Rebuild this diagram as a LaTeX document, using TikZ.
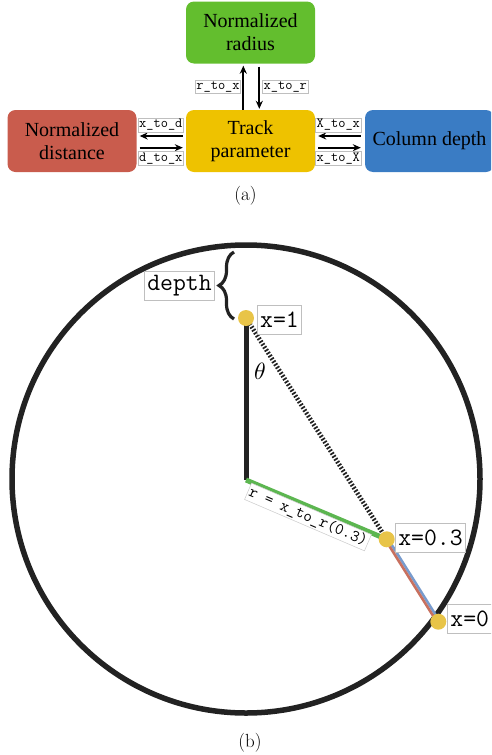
\documentclass[tikz,border=0pt]{standalone}
\usepackage{fontspec}
\newfontfamily\boxfont{Liberation Serif}
\usetikzlibrary{arrows.meta,decorations.pathreplacing}
\definecolor{cgreen}{RGB}{99,190,46}
\definecolor{cyellow}{RGB}{238,194,0}
\definecolor{cred}{RGB}{201,92,77}
\definecolor{cblue}{RGB}{58,124,196}
\definecolor{ldot}{RGB}{232,196,72}
\definecolor{lgreen}{RGB}{92,182,80}
\definecolor{lred}{RGB}{200,112,95}
\definecolor{lblue}{RGB}{120,155,205}
\definecolor{ink}{RGB}{34,34,34}
\begin{document}
\begin{tikzpicture}[x=1pt,y=-1pt,
 blk/.style={rounded corners=8pt, minimum width=129pt, minimum height=62pt, align=center,
   font=\boxfont\fontsize{20}{23}\selectfont, inner sep=0pt},
 tag/.style={draw=black!25, fill=white, line width=0.7pt, inner sep=1.2pt,
   font=\ttfamily\fontsize{14}{15}\selectfont},
 ftag/.style={draw=black!25, fill=white, line width=0.8pt, inner sep=3pt, minimum height=29pt,
   font=\ttfamily\fontsize{25}{27}\selectfont},
 arr/.style={-{Stealth[length=8pt,width=7pt]}, line width=1.8pt},
 dot/.style={circle, fill=ldot, minimum size=16pt, inner sep=0pt},
]
\useasboundingbox (0,0) rectangle (491,755);
\clip (0,0) rectangle (491,755);
% ---- (a)
\node[blk, fill=cgreen] (rad) at (250.5,32.5) {Normalized\\radius};
\node[blk, fill=cyellow] (trk) at (250.5,141) {Track\\parameter};
\node[blk, fill=cred] (dst) at (72,141) {Normalized\\distance};
\node[blk, fill=cblue] (col) at (429.5,141) {Column depth};

\draw[arr] ([xshift=-7.2pt]trk.north) -- ([xshift=-7.2pt,yshift=-2pt]rad.south);
\draw[arr] ([xshift=8.8pt,yshift=-3pt]rad.south) -- ([xshift=8.8pt,yshift=1pt]trk.north);
\draw[arr] ([xshift=-3pt,yshift=5pt]trk.west) -- ([xshift=3pt,yshift=5pt]dst.east);
\draw[arr] ([xshift=3pt,yshift=-6.7pt]dst.east) -- ([xshift=-3pt,yshift=-6.7pt]trk.west);
\draw[arr] ([xshift=-4pt,yshift=5pt]col.west) -- ([xshift=3pt,yshift=5pt]trk.east);
\draw[arr] ([xshift=3pt,yshift=-6.7pt]trk.east) -- ([xshift=-4pt,yshift=-6.7pt]col.west);

\node[tag] (lrx) at (218,86.7) {r\_to\_x};
\node[tag] (lxr) at (285.3,86.7) {x\_to\_r};
\node[tag] (lxd) at (160.8,125) {x\_to\_d};
\node[tag] (ldx) at (160.8,158.7) {d\_to\_x};
\node[tag] (lXx) at (338.3,125) {X\_to\_x};
\node[tag] (lxX) at (338.3,158.7) {x\_to\_X};

\node[font=\fontsize{19}{21}\selectfont] (capa) at (245.5,196) {(a)};

% ---- (b)
\coordinate (O) at (246,479);
\coordinate (c1) at (246,318);
\coordinate (c3) at (386.7,539.3);
\coordinate (c0) at (438.3,621.7);

\draw[ink, line width=5.5pt] (O) circle[radius=234pt];
\draw[ink, line width=5pt] (c1) -- ([yshift=-1pt]O);
\draw[ink, line width=4.5pt, dash pattern=on 1.7pt off 1.7pt] (c1) -- (c3);
\draw[lgreen, line width=5pt] ([yshift=-1pt]O) -- (c3);
\draw[lblue, line width=2.6pt] ([shift={(1.1,-0.7)}]c3) -- ([shift={(1.1,-0.7)}]c0);
\draw[lred, line width=2.6pt] ([shift={(-1.1,0.7)}]c3) -- ([shift={(-1.1,0.7)}]c0);

\node[dot] (p1) at (c1) {};
\node[dot] (p3) at (c3) {};
\node[dot] (p0) at (c0) {};

\draw[ink, line width=3.2pt, decorate, decoration={brace, amplitude=15pt}] (234,319) -- (234,252);

\node[ftag] (td) at (179.5,285.5) {depth};
\node[ftag] (t1) at (279.5,319.5) {x=1};
\node[ftag] (t3) at (430.5,537.5) {x=0.3};
\node[ftag, anchor=west] (t0) at (447,619) {x=0};

\node[draw=black!20, fill=white, line width=0.5pt, inner sep=1.5pt,
  font=\ttfamily\fontsize{16.5}{18}\selectfont, rotate=-23.2] (tr) at (308,517) {r = x\_to\_r(0.3)};

\node[scale=2.35] (th) at (260,371) {$\theta$};
\node[font=\fontsize{19}{21}\selectfont] (capb) at (250,743) {(b)};
\end{tikzpicture}
\end{document}
